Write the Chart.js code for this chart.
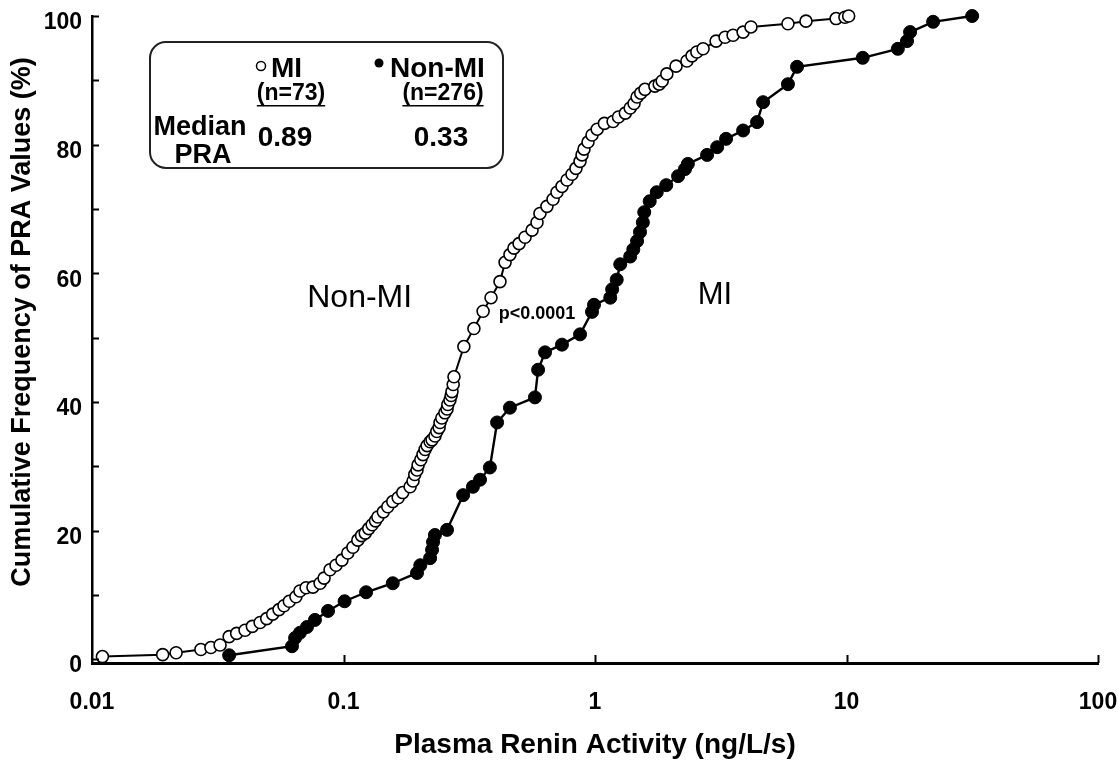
<!DOCTYPE html>
<html>
<head>
<meta charset="utf-8">
<script src="https://cdn.jsdelivr.net/npm/chart.js@4.4.0/dist/chart.umd.min.js"></script>
<style>
  html, body { margin: 0; padding: 0; background: #fff; }
  #wrap { width: 1119px; height: 762px; }
</style>
</head>
<body>
<div id="wrap"><canvas id="c" width="1119" height="762"></canvas></div>
<script>
// Cumulative distribution of plasma renin activity (ng/L/s) — open circles
const nonMiPRA = [0.011, 0.0191, 0.0216, 0.0271, 0.0297, 0.0323, 0.0351, 0.0376, 0.0406, 0.0434,
  0.0466, 0.0495, 0.0523, 0.0554, 0.058, 0.0609, 0.0647, 0.0671, 0.071, 0.0756,
  0.0807, 0.0837, 0.0884, 0.0934, 0.0986, 0.104, 0.109, 0.114, 0.118, 0.122,
  0.126, 0.130, 0.134, 0.137, 0.144, 0.150, 0.157, 0.165, 0.172, 0.184,
  0.189, 0.192, 0.196, 0.198, 0.203, 0.207, 0.211, 0.215, 0.221, 0.225,
  0.231, 0.235, 0.240, 0.242, 0.246, 0.253, 0.258, 0.260, 0.265, 0.268,
  0.270, 0.273, 0.275, 0.301, 0.330, 0.359, 0.386, 0.419, 0.439, 0.459,
  0.476, 0.499, 0.527, 0.562, 0.588, 0.604, 0.644, 0.681, 0.706, 0.739,
  0.774, 0.810, 0.840, 0.872, 0.888, 0.904, 0.938, 0.973, 1.02, 1.09,
  1.18, 1.24, 1.32, 1.38, 1.43, 1.47, 1.52, 1.58, 1.73, 1.80,
  1.85, 1.93, 2.10, 2.32, 2.43, 2.54, 2.69, 3.03, 3.29, 3.54,
  3.88, 4.17, 5.85, 6.90, 9.09, 9.86, 10.2];
const nonMiCum = [0.4, 0.7, 1.0, 1.5, 1.8, 2.2, 3.5, 4.0, 4.5, 5.1,
  5.7, 6.3, 7.0, 7.7, 8.3, 9.0, 9.7, 10.6, 11.1, 11.2,
  11.8, 12.6, 13.9, 14.6, 15.4, 16.5, 17.4, 18.5, 19.2, 19.6,
  20.3, 20.9, 21.5, 22.1, 22.9, 23.7, 24.5, 25.1, 25.9, 26.8,
  27.7, 28.7, 29.4, 30.2, 31.0, 31.8, 32.6, 33.2, 33.8, 34.1,
  34.7, 35.4, 36.0, 36.8, 37.5, 38.3, 38.9, 39.6, 40.3, 41.0,
  41.6, 42.7, 43.9, 48.6, 51.4, 54.1, 56.2, 58.7, 61.7, 62.9,
  63.9, 64.6, 65.6, 66.7, 67.9, 69.3, 70.4, 71.5, 72.6, 73.5,
  74.5, 75.4, 76.3, 77.4, 78.4, 79.3, 80.4, 81.5, 82.4, 83.3,
  83.6, 84.3, 84.9, 85.7, 86.4, 87.4, 88.0, 88.6, 89.1, 89.4,
  89.9, 91.0, 92.2, 93.0, 93.8, 94.4, 94.9, 96.1, 96.7, 97.0,
  97.5, 98.3, 98.8, 99.2, 99.6, 99.8, 100];

// Filled circles
const miPRA = [0.0351, 0.0624, 0.0642, 0.0671, 0.0716, 0.077, 0.0868, 0.101, 0.123, 0.157,
  0.196, 0.202, 0.221, 0.225, 0.227, 0.231, 0.258, 0.299, 0.327, 0.349,
  0.382, 0.408, 0.459, 0.577, 0.594, 0.633, 0.739, 0.872, 0.973, 0.991,
  1.15, 1.17, 1.22, 1.26, 1.38, 1.42, 1.47, 1.51, 1.55, 1.57,
  1.65, 1.76, 1.92, 2.14, 2.28, 2.34, 2.79, 3.06, 3.32, 3.88,
  4.41, 4.66, 5.85, 6.36, 11.6, 16.0, 17.4, 17.9, 22.1, 31.6];
const miCum = [0.6, 2.0, 3.3, 4.1, 5.0, 6.1, 7.5, 9.0, 10.4, 11.8,
  13.4, 14.6, 15.7, 17.0, 18.2, 19.3, 20.1, 25.5, 26.8, 27.9,
  29.8, 36.8, 39.1, 40.7, 45.0, 47.7, 48.9, 50.5, 54.0, 55.1,
  56.2, 57.5, 59.0, 61.4, 62.6, 63.7, 65.0, 66.4, 67.9, 69.5,
  71.2, 72.6, 73.7, 75.1, 76.2, 77.0, 78.4, 79.6, 80.9, 82.2,
  83.5, 86.6, 89.4, 92.1, 93.5, 94.9, 96.1, 97.5, 99.1, 100];

const xTickValues = [0.01, 0.1, 1, 10, 100];
const xTickLabels = ['0.01', '0.1', '1', '10', '100'];
const yTickValues = [0, 10, 20, 30, 40, 50, 60, 70, 80, 90, 100];
const yLabelValues = [0, 20, 40, 60, 80, 100];

const xTitle = 'Plasma Renin Activity (ng/L/s)';
const yTitle = 'Cumulative Frequency of PRA Values (%)';

const FONT = '"Liberation Sans", Arial, sans-serif';

// In-plot text labels, positioned in data units
const curveLabels = [
  { text: 'Non-MI', x: 0.116, y: 56.2, font: '32px ' + FONT },
  { text: 'MI', x: 3.0, y: 56.5, font: '31px ' + FONT },
  { text: 'p<0.0001', x: 0.588, y: 53.6, font: 'bold 18px ' + FONT }
];

const toPoints = (xs, ys) => xs.map((v, i) => ({ x: v, y: ys[i] }));

// Inward tick marks on both axes
const tickMarks = {
  id: 'tickMarks',
  afterDatasetsDraw(chart) {
    const { ctx, scales: { x, y }, chartArea: a } = chart;
    ctx.save();
    ctx.strokeStyle = '#000';
    ctx.lineWidth = 2;
    yTickValues.forEach(v => {
      const py = Math.round(y.getPixelForValue(v)) + 0.5;
      ctx.beginPath(); ctx.moveTo(a.left, py); ctx.lineTo(a.left + 7, py); ctx.stroke();
    });
    xTickValues.slice(1).forEach(v => {
      const px = Math.round(x.getPixelForValue(v)) + 0.5;
      ctx.beginPath(); ctx.moveTo(px, a.bottom); ctx.lineTo(px, a.bottom - 8); ctx.stroke();
    });
    ctx.restore();
  }
};

// Rotated y title, text labels and the legend box
const decorations = {
  id: 'decorations',
  afterDraw(chart) {
    const { ctx, scales: { x, y } } = chart;
    ctx.save();
    ctx.fillStyle = '#000';
    ctx.textBaseline = 'middle';

    // y axis title
    ctx.save();
    ctx.translate(23, 322);
    ctx.rotate(-Math.PI / 2);
    ctx.textAlign = 'center';
    ctx.font = 'bold 27px ' + FONT;
    ctx.fillText(yTitle, 0, 0);
    ctx.restore();

    // labels on the curves
    ctx.textAlign = 'center';
    curveLabels.forEach(l => {
      ctx.font = l.font;
      ctx.fillText(l.text, x.getPixelForValue(l.x), y.getPixelForValue(l.y));
    });

    // legend box
    const bx = 150, by = 42, bw = 353, bh = 126, r = 16;
    ctx.beginPath();
    ctx.moveTo(bx + r, by);
    ctx.arcTo(bx + bw, by, bx + bw, by + bh, r);
    ctx.arcTo(bx + bw, by + bh, bx, by + bh, r);
    ctx.arcTo(bx, by + bh, bx, by, r);
    ctx.arcTo(bx, by, bx + bw, by, r);
    ctx.closePath();
    ctx.lineWidth = 2;
    ctx.strokeStyle = '#222';
    ctx.stroke();

    // legend symbols
    ctx.lineWidth = 1.5;
    ctx.strokeStyle = '#000';
    ctx.beginPath(); ctx.arc(261, 66, 4.5, 0, Math.PI * 2);
    ctx.fillStyle = '#fff'; ctx.fill(); ctx.stroke();
    ctx.fillStyle = '#000';
    ctx.beginPath(); ctx.arc(379, 63, 4.5, 0, Math.PI * 2); ctx.fill();

    ctx.textAlign = 'left';
    ctx.font = 'bold 28px ' + FONT;
    ctx.fillText('MI', 271, 69);
    ctx.fillText('Non-MI', 390, 69);

    ctx.textAlign = 'center';
    ctx.font = 'bold 23px ' + FONT;
    const sub = [['(n=73)', 291], ['(n=276)', 443]];
    sub.forEach(([t, cx]) => {
      ctx.fillText(t, cx, 94);
      const w = ctx.measureText(t).width;
      ctx.fillRect(cx - w / 2, 105, w, 1.5);
    });

    ctx.font = 'bold 27px ' + FONT;
    ctx.fillText('Median', 200, 128);
    ctx.fillText('PRA', 203, 156);
    ctx.font = 'bold 28px ' + FONT;
    ctx.fillText('0.89', 285, 138);
    ctx.fillText('0.33', 441, 138);
    ctx.restore();
  }
};

new Chart(document.getElementById('c'), {
  type: 'scatter',
  data: {
    datasets: [
      {
        label: 'Non-MI',
        data: toPoints(nonMiPRA, nonMiCum),
        showLine: true,
        borderColor: '#000',
        borderWidth: 2,
        pointStyle: 'circle',
        pointRadius: 6,
        pointBackgroundColor: '#fff',
        pointBorderColor: '#000',
        pointBorderWidth: 1.6,
        clip: false,
        order: 1
      },
      {
        label: 'MI',
        data: toPoints(miPRA, miCum),
        showLine: true,
        borderColor: '#000',
        borderWidth: 2.4,
        pointStyle: 'circle',
        pointRadius: 6.5,
        pointBackgroundColor: '#000',
        pointBorderColor: '#000',
        pointBorderWidth: 1,
        clip: false,
        order: 2
      }
    ]
  },
  options: {
    responsive: false,
    animation: false,
    devicePixelRatio: 1,
    layout: { padding: { left: 0, right: 21, top: 16, bottom: 0 } },
    plugins: { legend: { display: false }, tooltip: { enabled: false } },
    elements: { line: { tension: 0 } },
    scales: {
      x: {
        type: 'logarithmic',
        position: 'bottom',
        min: 0.01,
        max: 100,
        afterBuildTicks: s => { s.ticks = xTickValues.map(v => ({ value: v })); },
        afterFit: s => { s.height = 99; s.paddingLeft = 0; s.paddingRight = 0; },
        grid: { display: true, drawOnChartArea: false, drawTicks: false },
        border: { display: true, color: '#000', width: 3 },
        ticks: {
          autoSkip: false,
          maxRotation: 0,
          padding: 26,
          color: '#000',
          font: { family: FONT, size: 23, weight: 'bold' },
          callback: v => {
            const i = xTickValues.indexOf(v);
            return i >= 0 ? xTickLabels[i] : '';
          }
        },
        title: {
          display: true,
          text: xTitle,
          color: '#000',
          font: { family: FONT, size: 28, weight: 'bold' },
          padding: { top: 0, bottom: 0 }
        }
      },
      y: {
        type: 'linear',
        min: -0.6,
        max: 100,
        afterBuildTicks: s => { s.ticks = yTickValues.map(v => ({ value: v })); },
        afterFit: s => { s.width = 92; s.paddingTop = 0; s.paddingBottom = 0; },
        grid: { display: true, drawOnChartArea: false, drawTicks: false },
        border: { display: true, color: '#000', width: 2.5 },
        ticks: {
          autoSkip: false,
          padding: 10,
          labelOffset: 7,
          color: '#000',
          font: { family: FONT, size: 23, weight: 'bold' },
          callback: v => (yLabelValues.includes(v) ? String(v) : '')
        }
      }
    }
  },
  plugins: [tickMarks, decorations]
});
</script>
</body>
</html>
